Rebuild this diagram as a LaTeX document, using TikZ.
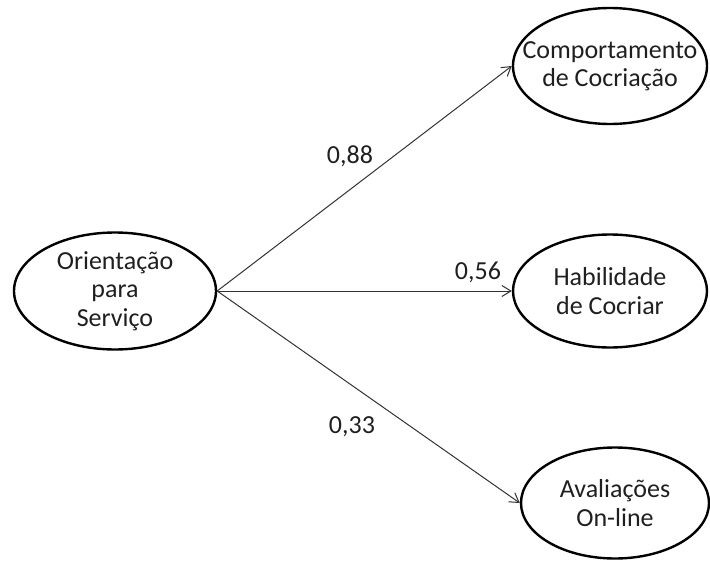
\documentclass[tikz,border=0pt]{standalone}
\usepackage{fontspec}
\setmainfont{Carlito}
\usetikzlibrary{shapes.geometric,arrows.meta}

\begin{document}
\begin{tikzpicture}[x=1pt,y=-1pt,
    construct/.style={ellipse,draw,line width=2.4pt,inner sep=0pt},
    inner/.style={align=center,font=\fontsize{26}{28.5}\selectfont,text=black!88},
    path/.style={draw=black!80,line width=1pt,-{Straight Barb[length=9pt,width=11pt]}},
    coef/.style={font=\fontsize{26}{30}\selectfont,text=black!88}]
    \useasboundingbox (0,0) rectangle (710,562);
    \node[construct,minimum width=202pt,minimum height=117pt,
      label={[inner]center:{Orientação\\para\\Serviço}}] (osv) at (115,291) {};
    \node[construct,minimum width=194pt,minimum height=116pt,
      label={[inner]center:{Comportamento\\de Cocriação}}] (comp) at (610,66) {};
    \node[construct,minimum width=194pt,minimum height=113pt,
      label={[inner]center:{Habilidade\\de Cocriar}}] (hab) at (610,291) {};
    \node[construct,minimum width=188pt,minimum height=111pt,
      label={[inner]center:{Avaliações\\On-line}}] (aval) at (615,503) {};
    \draw[path] (osv.east) -- (comp.west);
    \draw[path] (osv.east) -- (hab.west);
    \draw[path] (osv.east) -- (aval.west);
    \node[coef] (c1) at (350,156) {0,88};
    \node[coef] (c2) at (478,272) {0,56};
    \node[coef] (c3) at (352,427) {0,33};
\end{tikzpicture}
\end{document}
